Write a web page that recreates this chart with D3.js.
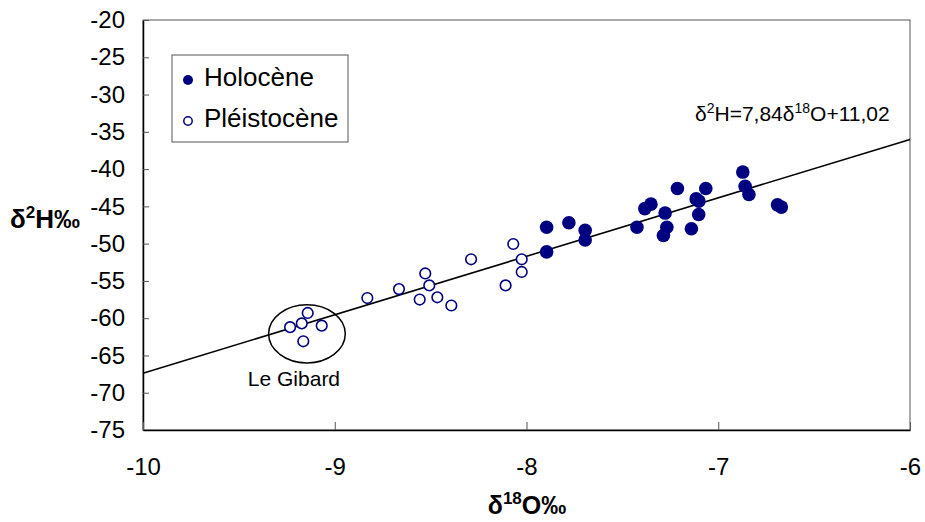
<!DOCTYPE html>
<html>
<head>
<meta charset="utf-8">
<script src="https://cdn.jsdelivr.net/npm/d3@7"></script>
<style>
  body { margin: 0; background: #fff; }
  svg { display: block; font-family: "Liberation Sans", Arial, sans-serif; }
</style>
</head>
<body>
<svg id="chart" width="925" height="522"></svg>
<script>
// ---- Data ----
const holoceneX = [-7.895, -7.779, -7.694, -7.694, -7.895, -7.424, -7.383, -7.351, -7.277, -7.268, -7.286,
                   -7.213, -7.140, -7.101, -7.102, -7.065, -6.872, -6.860, -6.840, -6.691, -6.671, -7.115];
const holoceneY = [-47.8, -47.2, -48.2, -49.5, -51.1, -47.8, -45.3, -44.7, -45.9, -47.8, -48.9,
                   -42.6, -48.0, -44.3, -46.1, -42.6, -40.4, -42.3, -43.4, -44.8, -45.1, -44.0];
const pleistX = [-8.069, -8.025, -8.025, -8.109, -8.289, -8.528, -8.507, -8.557, -8.465, -8.392, -8.665, -8.830,
                 -9.141, -9.172, -9.233, -9.068, -9.164];
const pleistY = [-50.05, -52.1, -53.8, -55.6, -52.1, -54.0, -55.6, -57.5, -57.2, -58.3, -56.1, -57.3,
                 -59.3, -60.7, -61.2, -61.0, -63.1];
const xTicks = [-10, -9, -8, -7, -6];
const yTicks = [-20, -25, -30, -35, -40, -45, -50, -55, -60, -65, -70, -75];
const slope = 7.84, intercept = 11.02;
const seriesNames = ["Holocène", "Pléistocène"];
const equationParts = ["δ", "2", "H=7,84δ", "18", "O+11,02"];
const gibardLabel = "Le Gibard";
const gibardCenter = [-9.145, -62.1];
const gibardRadius = [0.2, 3.9];

// ---- Layout ----
const svg = d3.select("#chart");
const L = 143, R = 910, T = 20, B = 430;
const navy = "#000080";
const x = d3.scaleLinear().domain([-10, -6]).range([L, R]);
const y = d3.scaleLinear().domain([-75, -20]).range([B, T]);

// plot border
svg.append("rect").attr("x", L).attr("y", T).attr("width", R - L).attr("height", B - T)
  .attr("fill", "none").attr("stroke", "#555").attr("stroke-width", 1);

// axes
const yAxis = d3.axisLeft(y).tickValues(yTicks).tickSizeInner(-6).tickSizeOuter(0).tickPadding(18)
  .tickFormat(d => String(d));
const xAxis = d3.axisBottom(x).tickValues(xTicks).tickSizeInner(-8).tickSizeOuter(0).tickPadding(28)
  .tickFormat(d => String(d));

const gy = svg.append("g").attr("transform", `translate(${L},0)`).call(yAxis);
const gx = svg.append("g").attr("transform", `translate(0,${B})`).call(xAxis);
[gx, gy].forEach(g => {
  g.select(".domain").attr("stroke", "#000").attr("stroke-width", 1.5);
  g.selectAll(".tick line").attr("stroke", "#555").attr("stroke-width", 1);
  g.selectAll(".tick text").attr("font-size", 24).attr("fill", "#000")
    .attr("font-family", "Liberation Sans, Arial, sans-serif");
});

// regression line
svg.append("line")
  .attr("x1", x(-10)).attr("y1", y(slope * -10 + intercept))
  .attr("x2", x(-6)).attr("y2", y(slope * -6 + intercept))
  .attr("stroke", "#000").attr("stroke-width", 1.6);

// Le Gibard ellipse
svg.append("ellipse")
  .attr("cx", x(gibardCenter[0])).attr("cy", y(gibardCenter[1]))
  .attr("rx", x(gibardCenter[0] + gibardRadius[0]) - x(gibardCenter[0]))
  .attr("ry", y(gibardCenter[1] - gibardRadius[1]) - y(gibardCenter[1]))
  .attr("fill", "none").attr("stroke", "#000").attr("stroke-width", 1.5);
svg.append("text").attr("x", x(gibardCenter[0]) - 13).attr("y", 386)
  .attr("text-anchor", "middle").attr("font-size", 21).text(gibardLabel);

// points
svg.append("g").selectAll("circle").data(pleistX.map((v, i) => [v, pleistY[i]]))
  .join("circle").attr("cx", d => x(d[0])).attr("cy", d => y(d[1])).attr("r", 5.3)
  .attr("fill", "#fff").attr("stroke", navy).attr("stroke-width", 1.6);
svg.append("g").selectAll("circle").data(holoceneX.map((v, i) => [v, holoceneY[i]]))
  .join("circle").attr("cx", d => x(d[0])).attr("cy", d => y(d[1])).attr("r", 6.8)
  .attr("fill", navy);

// legend
svg.append("rect").attr("x", 172).attr("y", 55).attr("width", 176).attr("height", 87)
  .attr("fill", "#fff").attr("stroke", "#555").attr("stroke-width", 1);
svg.append("circle").attr("cx", 188).attr("cy", 80).attr("r", 5).attr("fill", navy);
svg.append("circle").attr("cx", 188).attr("cy", 121).attr("r", 4.2).attr("fill", "#fff")
  .attr("stroke", navy).attr("stroke-width", 1.5);
svg.append("text").attr("x", 204).attr("y", 86).attr("font-size", 26).text(seriesNames[0]);
svg.append("text").attr("x", 204).attr("y", 127).attr("font-size", 26).text(seriesNames[1]);

// equation
const eq = svg.append("text").attr("x", 695).attr("y", 121).attr("font-size", 21);
equationParts.forEach((p, i) => {
  const sup = i % 2 === 1;
  eq.append("tspan").attr("font-size", sup ? 14 : 21).attr("dy", sup ? -8 : (i > 0 ? 8 : 0)).text(p);
});

// axis titles
const xt = svg.append("text").attr("x", 527).attr("y", 514).attr("text-anchor", "middle")
  .attr("font-size", 25).attr("font-weight", "bold");
xt.append("tspan").text("δ");
xt.append("tspan").attr("font-size", 17).attr("dy", -10).text("18");
xt.append("tspan").attr("dy", 10).text("O‰");

const yt = svg.append("text").attr("x", 10).attr("y", 228).attr("text-anchor", "start")
  .attr("font-size", 26).attr("font-weight", "bold");
yt.append("tspan").text("δ");
yt.append("tspan").attr("font-size", 17).attr("dy", -10).text("2");
yt.append("tspan").attr("dy", 10).text("H‰");
</script>
</body>
</html>
